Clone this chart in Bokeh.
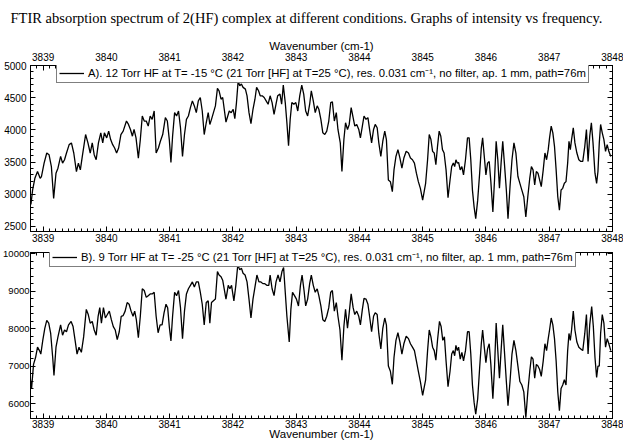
from bokeh.plotting import figure
from bokeh.models import (Range1d, LinearAxis, SingleIntervalTicker, Legend, LegendItem,
                          CustomLabelingPolicy)
from bokeh.layouts import column
from bokeh.embed import file_html
from bokeh.resources import INLINE
from bokeh.core.properties import value

TITLE = "FTIR absorption spectrum of  2(HF) complex at different conditions. Graphs of intensity vs frequency."
X_LABEL = "Wavenumber (cm-1)"
LEGEND_A = "A). 12 Torr HF at T= -15 \u00b0C (21 Torr [HF] at T=25 \u00b0C), res. 0.031 cm\u207b\u00b9, no filter, ap. 1 mm, path=76m"
LEGEND_B = "B). 9 Torr HF at T= -25 \u00b0C (21 Torr [HF] at T=25 \u00b0C), res. 0.031 cm\u207b\u00b9, no filter, ap. 1 mm, path=76m"

X_RANGE = (3838.8, 3848.0)
Y_RANGE_A = (2420, 5000)
Y_RANGE_B = (5610, 10030)

# (wavenumber cm-1, intensity)
spectrum_a = [
    (3838.807, 2840), (3838.833, 3064), (3838.869, 3247), (3838.911, 3352), (3838.953, 3247),
    (3838.973, 3274), (3839.015, 3483), (3839.057, 3640), (3839.093, 3614), (3839.130, 3430),
    (3839.166, 2934), (3839.203, 3326), (3839.234, 3404), (3839.276, 3587), (3839.307, 3483),
    (3839.338, 3535), (3839.369, 3640), (3839.411, 3770), (3839.447, 3797), (3839.484, 3640),
    (3839.526, 3352), (3839.557, 3483), (3839.588, 3378), (3839.619, 3587), (3839.671, 3927),
    (3839.708, 3797), (3839.744, 3640), (3839.776, 3797), (3839.807, 3614), (3839.838, 3535),
    (3839.874, 3797), (3839.911, 3953), (3839.942, 3797), (3839.968, 3953), (3840.005, 3875),
    (3840.036, 3980), (3840.067, 3849), (3840.099, 3770), (3840.130, 3718), (3840.161, 3640),
    (3840.193, 3718), (3840.229, 3927), (3840.265, 3980), (3840.317, 4137), (3840.349, 4084),
    (3840.380, 4006), (3840.411, 3901), (3840.437, 4006), (3840.468, 3875), (3840.505, 3561),
    (3840.536, 3849), (3840.567, 4215), (3840.598, 4137), (3840.630, 4137), (3840.661, 4058),
    (3840.692, 4215), (3840.723, 4163), (3840.755, 4293), (3840.786, 3640), (3840.822, 3718),
    (3840.853, 3823), (3840.890, 3927), (3840.932, 4189), (3840.963, 4137), (3840.994, 3849),
    (3841.020, 3493), (3841.046, 3901), (3841.078, 4267), (3841.109, 4215), (3841.140, 4293),
    (3841.171, 4032), (3841.203, 3587), (3841.234, 3927), (3841.265, 4163), (3841.296, 4215),
    (3841.328, 4346), (3841.359, 4450), (3841.390, 4372), (3841.421, 4267), (3841.453, 4450),
    (3841.484, 4503), (3841.515, 4293), (3841.546, 3927), (3841.578, 4110), (3841.609, 4267),
    (3841.635, 4084), (3841.661, 4163), (3841.692, 4267), (3841.723, 4372), (3841.755, 4644),
    (3841.781, 4607), (3841.812, 4476), (3841.838, 4503), (3841.890, 4121), (3841.942, 4293),
    (3841.973, 4267), (3842.004, 4320), (3842.030, 4173), (3842.056, 4424), (3842.082, 4754),
    (3842.108, 4686), (3842.134, 4712), (3842.160, 4660), (3842.197, 4633), (3842.223, 4529),
    (3842.254, 4267), (3842.285, 4095), (3842.317, 4320), (3842.348, 4476), (3842.374, 4660),
    (3842.405, 4607), (3842.431, 4529), (3842.463, 4529), (3842.494, 4503), (3842.525, 4450),
    (3842.556, 4398), (3842.588, 4529), (3842.619, 4424), (3842.650, 4241), (3842.681, 4398),
    (3842.707, 4529), (3842.744, 4555), (3842.770, 4398), (3842.796, 4696), (3842.827, 4424),
    (3842.853, 4110), (3842.879, 3755), (3842.905, 4163), (3842.931, 4424), (3842.963, 4398),
    (3842.994, 4424), (3843.025, 4293), (3843.056, 4529), (3843.088, 4696), (3843.119, 4555),
    (3843.150, 4293), (3843.181, 4215), (3843.213, 4398), (3843.239, 4607), (3843.270, 4450),
    (3843.301, 4267), (3843.332, 4372), (3843.358, 4320), (3843.390, 4163), (3843.421, 3953),
    (3843.452, 3927), (3843.483, 3980), (3843.515, 4137), (3843.546, 4424), (3843.572, 4435),
    (3843.603, 4137), (3843.634, 4267), (3843.660, 4006), (3843.697, 3797), (3843.723, 3352),
    (3843.754, 3849), (3843.780, 4110), (3843.811, 4006), (3843.838, 4084), (3843.869, 4346),
    (3843.900, 4189), (3843.926, 4058), (3843.957, 4084), (3843.989, 4006), (3844.015, 3875),
    (3844.046, 4058), (3844.072, 4215), (3844.103, 4163), (3844.134, 4189), (3844.160, 4006),
    (3844.192, 3797), (3844.223, 4006), (3844.249, 4084), (3844.280, 4032), (3844.306, 3797),
    (3844.338, 3587), (3844.369, 3823), (3844.400, 3980), (3844.426, 3849), (3844.457, 3221),
    (3844.489, 3195), (3844.520, 3038), (3844.546, 3378), (3844.577, 3587), (3844.608, 3692),
    (3844.640, 3561), (3844.671, 3404), (3844.702, 3561), (3844.739, 3666), (3844.775, 3640),
    (3844.806, 3561), (3844.838, 3535), (3844.869, 3483), (3844.900, 3326), (3844.931, 3195),
    (3844.963, 3091), (3844.999, 2907), (3845.046, 3169), (3845.077, 3535), (3845.103, 3927),
    (3845.130, 3849), (3845.156, 3666), (3845.182, 3640), (3845.208, 3457), (3845.234, 3744),
    (3845.260, 3980), (3845.286, 3901), (3845.312, 3692), (3845.338, 3640), (3845.369, 3378),
    (3845.400, 2944), (3845.432, 3221), (3845.458, 3430), (3845.484, 3483), (3845.505, 3430),
    (3845.525, 3535), (3845.546, 3483), (3845.567, 3493), (3845.593, 3378), (3845.619, 3430),
    (3845.645, 3300), (3845.676, 3535), (3845.708, 3875), (3845.734, 3875), (3845.760, 3535),
    (3845.786, 3064), (3845.812, 2803), (3845.838, 2620), (3845.869, 2907), (3845.900, 3326),
    (3845.926, 3718), (3845.947, 3875), (3845.973, 3587), (3845.999, 3300), (3846.025, 3483),
    (3846.051, 3509), (3846.077, 3195), (3846.109, 2724), (3846.135, 3221), (3846.161, 3823),
    (3846.187, 3535), (3846.213, 3091), (3846.239, 3483), (3846.265, 3823), (3846.291, 3483),
    (3846.322, 3064), (3846.348, 2620), (3846.380, 3117), (3846.411, 3535), (3846.442, 3797),
    (3846.473, 3640), (3846.505, 3274), (3846.536, 3169), (3846.567, 3064), (3846.598, 2960),
    (3846.630, 2646), (3846.661, 2960), (3846.692, 3247), (3846.718, 3430), (3846.744, 3378),
    (3846.770, 3143), (3846.796, 3352), (3846.822, 3326), (3846.848, 3221), (3846.874, 3117),
    (3846.905, 3378), (3846.932, 3640), (3846.958, 3535), (3846.984, 3692), (3847.005, 3875),
    (3847.031, 4058), (3847.057, 3953), (3847.083, 3744), (3847.109, 3378), (3847.135, 2960),
    (3847.161, 2751), (3847.187, 3064), (3847.213, 3091), (3847.239, 3169), (3847.265, 3195),
    (3847.291, 3483), (3847.312, 3823), (3847.333, 3692), (3847.353, 3849), (3847.380, 4032),
    (3847.406, 3797), (3847.437, 3640), (3847.468, 3535), (3847.499, 3509), (3847.530, 3509),
    (3847.562, 3744), (3847.588, 4006), (3847.614, 3509), (3847.640, 3901), (3847.666, 4110),
    (3847.692, 3797), (3847.723, 3326), (3847.749, 3169), (3847.770, 3352), (3847.791, 3797),
    (3847.812, 4084), (3847.838, 3953), (3847.864, 3849), (3847.890, 3666), (3847.916, 3770),
    (3847.942, 3666), (3847.973, 3587),
]

spectrum_b = [
    (3838.796, 6686), (3838.817, 6411), (3838.848, 7051), (3838.880, 7234), (3838.911, 7509),
    (3838.942, 7417), (3838.963, 7326), (3838.994, 7692), (3839.026, 8012), (3839.057, 8222),
    (3839.088, 8149), (3839.119, 7875), (3839.151, 7234), (3839.171, 6759), (3839.203, 7509),
    (3839.234, 7783), (3839.276, 8103), (3839.307, 7829), (3839.338, 7966), (3839.369, 7920),
    (3839.401, 8103), (3839.442, 8195), (3839.473, 8058), (3839.505, 7692), (3839.536, 7326),
    (3839.567, 7509), (3839.604, 7372), (3839.640, 7783), (3839.682, 8515), (3839.713, 8378),
    (3839.744, 8149), (3839.776, 8195), (3839.807, 7966), (3839.838, 7829), (3839.869, 8332),
    (3839.895, 8561), (3839.921, 8149), (3839.953, 8561), (3839.984, 8286), (3840.015, 8378),
    (3840.046, 8469), (3840.078, 8241), (3840.109, 8058), (3840.140, 7966), (3840.171, 7710),
    (3840.203, 7920), (3840.234, 8332), (3840.265, 8351), (3840.296, 8469), (3840.328, 8698),
    (3840.359, 8652), (3840.390, 8469), (3840.421, 8332), (3840.447, 8469), (3840.473, 8241),
    (3840.505, 7765), (3840.536, 8332), (3840.567, 9064), (3840.598, 9018), (3840.630, 8835),
    (3840.661, 8881), (3840.692, 8927), (3840.723, 8927), (3840.755, 8973), (3840.786, 8332),
    (3840.817, 7893), (3840.849, 8103), (3840.880, 8103), (3840.911, 8424), (3840.942, 8652),
    (3840.968, 8561), (3840.994, 8058), (3841.020, 7673), (3841.046, 8332), (3841.078, 8973),
    (3841.109, 8881), (3841.140, 9018), (3841.171, 8561), (3841.203, 7737), (3841.234, 8469),
    (3841.265, 8927), (3841.296, 9064), (3841.328, 9156), (3841.359, 9247), (3841.390, 9110),
    (3841.421, 9247), (3841.453, 9247), (3841.484, 8973), (3841.515, 8652), (3841.546, 8103),
    (3841.578, 8698), (3841.609, 8744), (3841.635, 8149), (3841.661, 8698), (3841.692, 8744),
    (3841.723, 8790), (3841.755, 9522), (3841.781, 9430), (3841.812, 9384), (3841.838, 9293),
    (3841.890, 8790), (3841.926, 9156), (3841.952, 9064), (3841.978, 9156), (3842.015, 8744),
    (3842.046, 9156), (3842.077, 9705), (3842.108, 9567), (3842.134, 9613), (3842.160, 9476),
    (3842.192, 9430), (3842.223, 9247), (3842.254, 8790), (3842.285, 8286), (3842.317, 8790),
    (3842.348, 9110), (3842.379, 9430), (3842.411, 9247), (3842.442, 9247), (3842.473, 9201),
    (3842.504, 9201), (3842.535, 9156), (3842.567, 9156), (3842.588, 9430), (3842.619, 9064),
    (3842.650, 8881), (3842.681, 9247), (3842.713, 9430), (3842.744, 9247), (3842.775, 9522),
    (3842.801, 9631), (3842.827, 8973), (3842.853, 8332), (3842.890, 7646), (3842.916, 8515),
    (3842.942, 8973), (3842.973, 8881), (3843.004, 8790), (3843.036, 8607), (3843.067, 9156),
    (3843.093, 9430), (3843.124, 9018), (3843.150, 8607), (3843.181, 8790), (3843.213, 9201),
    (3843.239, 9430), (3843.270, 9156), (3843.301, 8973), (3843.332, 9064), (3843.358, 8881),
    (3843.390, 8607), (3843.421, 8241), (3843.452, 8195), (3843.483, 8332), (3843.515, 8561),
    (3843.546, 8973), (3843.572, 9018), (3843.603, 8469), (3843.634, 8698), (3843.660, 8332),
    (3843.692, 7966), (3843.723, 7161), (3843.754, 8058), (3843.780, 8515), (3843.811, 8012),
    (3843.838, 8424), (3843.869, 8927), (3843.900, 8561), (3843.926, 8378), (3843.957, 8469),
    (3843.989, 8332), (3844.015, 8103), (3844.046, 8515), (3844.072, 8808), (3844.103, 8790),
    (3844.134, 8652), (3844.160, 8332), (3844.192, 7920), (3844.223, 8332), (3844.249, 8424),
    (3844.280, 8378), (3844.306, 7875), (3844.338, 7463), (3844.369, 8012), (3844.400, 8286),
    (3844.426, 8103), (3844.457, 7006), (3844.489, 6868), (3844.520, 6521), (3844.546, 7234),
    (3844.577, 7692), (3844.608, 7893), (3844.640, 7646), (3844.671, 7326), (3844.702, 7600),
    (3844.739, 7801), (3844.775, 7737), (3844.806, 7600), (3844.838, 7509), (3844.869, 7417),
    (3844.900, 7143), (3844.931, 6868), (3844.963, 6594), (3844.999, 6228), (3845.046, 6640),
    (3845.077, 7417), (3845.103, 7966), (3845.130, 7783), (3845.156, 7509), (3845.182, 7417),
    (3845.208, 7161), (3845.234, 7692), (3845.265, 8195), (3845.291, 8058), (3845.317, 7692),
    (3845.343, 7783), (3845.369, 7143), (3845.400, 6457), (3845.432, 6868), (3845.458, 7326),
    (3845.484, 7417), (3845.505, 7280), (3845.525, 7555), (3845.546, 7417), (3845.567, 7509),
    (3845.593, 7189), (3845.619, 7372), (3845.645, 7143), (3845.676, 7417), (3845.708, 7920),
    (3845.734, 7920), (3845.760, 7326), (3845.786, 6502), (3845.812, 6045), (3845.838, 5724),
    (3845.869, 6136), (3845.900, 6960), (3845.926, 7600), (3845.947, 7966), (3845.973, 7509),
    (3845.999, 7097), (3846.025, 7463), (3846.051, 7600), (3846.077, 7051), (3846.109, 6136),
    (3846.135, 6960), (3846.161, 8149), (3846.187, 7417), (3846.213, 6686), (3846.239, 7417),
    (3846.265, 8103), (3846.291, 7417), (3846.322, 6594), (3846.348, 5953), (3846.380, 6594),
    (3846.411, 7326), (3846.442, 7692), (3846.473, 7417), (3846.505, 7006), (3846.536, 6594),
    (3846.567, 6502), (3846.598, 6319), (3846.630, 5630), (3846.661, 6319), (3846.692, 6868),
    (3846.718, 7253), (3846.744, 7189), (3846.770, 6686), (3846.796, 7051), (3846.822, 7006),
    (3846.848, 6914), (3846.874, 6731), (3846.905, 7143), (3846.932, 7600), (3846.958, 7417),
    (3846.984, 7737), (3847.005, 7966), (3847.031, 8286), (3847.057, 8103), (3847.083, 7737),
    (3847.109, 7143), (3847.135, 6319), (3847.161, 5816), (3847.187, 6411), (3847.213, 6502),
    (3847.239, 6640), (3847.265, 6502), (3847.291, 7417), (3847.312, 7875), (3847.333, 7692),
    (3847.353, 7966), (3847.380, 8469), (3847.406, 7966), (3847.437, 7646), (3847.468, 7509),
    (3847.499, 7463), (3847.530, 7417), (3847.562, 7875), (3847.588, 8378), (3847.614, 7326),
    (3847.640, 8103), (3847.671, 8588), (3847.697, 8058), (3847.723, 7234), (3847.749, 6704),
    (3847.770, 7006), (3847.791, 7006), (3847.812, 7875), (3847.838, 8378), (3847.864, 8149),
    (3847.890, 7509), (3847.916, 7737), (3847.942, 7600), (3847.973, 7417),
]

wn_a = [p[0] for p in spectrum_a]
int_a = [p[1] for p in spectrum_a]
wn_b = [p[0] for p in spectrum_b]
int_b = [p[1] for p in spectrum_b]

FONT = "Liberation Sans"
HIDE_ALL = "for (const i of Array.from(indices)) { indices.unset(i) }\nreturn indices"


def style_axis(ax, labels=True, standoff=3, size="10px"):
    ax.axis_line_color = "black"
    ax.axis_line_width = 1
    ax.major_tick_line_color = "black"
    ax.minor_tick_line_color = "black"
    ax.major_tick_in = 5
    ax.major_tick_out = 0
    ax.minor_tick_in = 3
    ax.minor_tick_out = 0
    ax.major_label_text_font = FONT
    ax.major_label_text_color = "black"
    ax.major_label_standoff = standoff
    if labels:
        ax.major_label_text_font_size = size
    else:
        ax.major_label_text_font_size = "0px"
        ax.major_label_policy = CustomLabelingPolicy(code=HIDE_ALL)
    ax.axis_label_text_font = FONT
    ax.axis_label_text_font_style = "normal"
    ax.axis_label_text_font_size = "11.5px"
    ax.axis_label_text_color = "black"


def make_panel(height, y_range, y_step, wn, inten, legend_text, legend_loc,
               top_labels, bottom_label, y_label_size, y_label_standoff, title=None):
    p = figure(width=623, height=height, x_range=Range1d(*X_RANGE), y_range=Range1d(*y_range),
               output_backend="svg", toolbar_location=None, x_axis_type=None, y_axis_type=None,
               title=title)
    p.min_border_left = 28
    p.min_border_right = 11
    p.min_border_top = 0
    p.min_border_bottom = 0
    p.outline_line_color = "black"
    p.outline_line_width = 1
    p.background_fill_color = "white"
    p.border_fill_color = "white"

    xt = SingleIntervalTicker(interval=1, num_minor_ticks=10)
    yt = SingleIntervalTicker(interval=y_step, num_minor_ticks=5)

    below = LinearAxis(ticker=xt)
    if bottom_label:
        style_axis(below, True, 1)
        below.axis_label = X_LABEL
        below.axis_label_standoff = -3
    else:
        style_axis(below, True, 2)
    p.add_layout(below, "below")

    above = LinearAxis(ticker=xt)
    style_axis(above, top_labels, 5 if top_labels else -40)
    if top_labels:
        above.axis_label = X_LABEL
        above.axis_label_standoff = -2
    p.add_layout(above, "above")

    left = LinearAxis(ticker=yt)
    style_axis(left, True, y_label_standoff, y_label_size)
    p.add_layout(left, "left")

    right = LinearAxis(ticker=yt)
    style_axis(right, False, 0)
    p.add_layout(right, "right")

    r = p.line(wn, inten, line_color="black", line_width=1.3)

    leg = Legend(items=[LegendItem(label=value(legend_text), renderers=[r])],
                 location=legend_loc)
    leg.label_text_font = FONT
    leg.label_text_font_size = "11.3px"
    leg.label_text_color = "black"
    leg.glyph_width = 25
    leg.glyph_height = 12
    leg.label_height = 12
    leg.label_standoff = 4
    leg.padding = 2
    leg.spacing = 0
    leg.margin = 0
    leg.border_line_color = "black"
    leg.border_line_width = 1
    leg.background_fill_color = "white"
    leg.background_fill_alpha = 1.0
    p.add_layout(leg, "center")
    return p


pA = make_panel(244, Y_RANGE_A, 500, wn_a, int_a, LEGEND_A, (26, 148), True, False,
                "10px", 4, TITLE)
pA.title.text_font = "Liberation Serif"
pA.title.text_font_size = "14.5px"
pA.title.text_font_style = "normal"
pA.title.text_color = "black"
pA.title.align = "left"
pA.title.vertical_align = "top"
pA.title.offset = -20
pA.title.standoff = 18

pB = make_panel(198, Y_RANGE_B, 1000, wn_b, int_b, LEGEND_B, (19, 151), False, True,
                "9.5px", 1)
pB.min_border_top = 8

layout = column(pA, pB, spacing=0)
open("out.html", "w").write(file_html(layout, INLINE))
